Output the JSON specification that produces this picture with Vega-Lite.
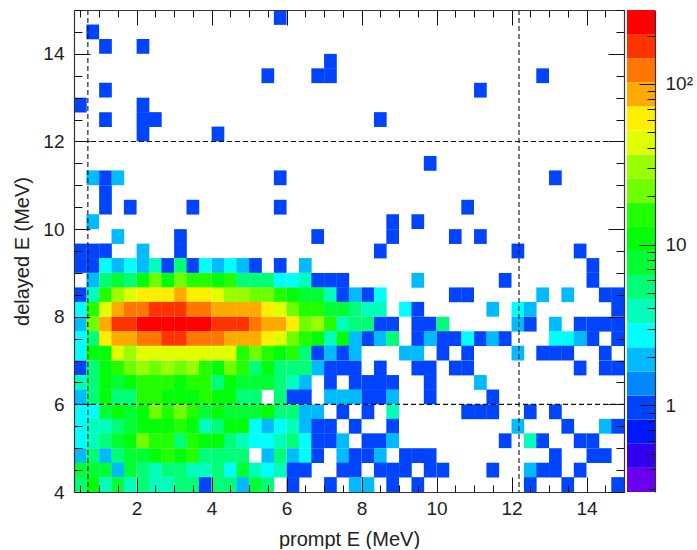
{"$schema":"https://vega.github.io/schema/vega-lite/v6.json","padding":{"left":12,"top":1,"right":0,"bottom":0},"autosize":{"type":"pad"},"background":"white","spacing":2,"config":{"font":"Liberation Sans","view":{"stroke":null},"axis":{"labelFont":"Liberation Sans","titleFont":"Liberation Sans","labelFontSize":19,"titleFontSize":20,"titleFontWeight":"normal","labelColor":"#222","titleColor":"#222","tickColor":"#111","domainColor":"#333","domainWidth":1.2,"grid":false,"labelOverlap":false,"labelFlush":false,"labelBound":false}},
"datasets":{"cells":[
{"x":5.83,"y":14.83,"n":1},{"x":0.83,"y":14.5,"n":1},{"x":1.17,"y":14.17,"n":1},{"x":2.17,"y":14.17,"n":1},{"x":7.17,"y":13.83,"n":1},{"x":5.5,"y":13.5,"n":1},{"x":6.83,"y":13.5,"n":1},{"x":7.17,"y":13.5,"n":1},{"x":12.83,"y":13.5,"n":1},{"x":1.17,"y":13.17,"n":1},{"x":11.17,"y":13.17,"n":1},{"x":0.5,"y":12.83,"n":1},{"x":2.17,"y":12.83,"n":1},{"x":1.17,"y":12.5,"n":1},{"x":2.17,"y":12.5,"n":1},{"x":2.5,"y":12.5,"n":1},{"x":8.5,"y":12.5,"n":1},{"x":2.17,"y":12.17,"n":1},{"x":4.17,"y":12.17,"n":1},{"x":9.83,"y":11.5,"n":1},
{"x":0.83,"y":11.17,"n":2},{"x":1.17,"y":11.17,"n":1},{"x":1.5,"y":11.17,"n":2},{"x":5.83,"y":11.17,"n":1},{"x":13.17,"y":11.17,"n":1},{"x":1.17,"y":10.83,"n":1},{"x":1.17,"y":10.5,"n":1},{"x":1.83,"y":10.5,"n":1},{"x":3.5,"y":10.5,"n":1},{"x":5.83,"y":10.5,"n":1},{"x":10.83,"y":10.5,"n":1},{"x":0.83,"y":10.17,"n":2},{"x":8.83,"y":10.17,"n":1},{"x":9.5,"y":10.17,"n":1},
{"x":1.5,"y":9.83,"n":2},{"x":3.17,"y":9.83,"n":1},{"x":6.83,"y":9.83,"n":1},{"x":8.83,"y":9.83,"n":1},{"x":10.5,"y":9.83,"n":1},{"x":11.17,"y":9.83,"n":1},
{"x":0.5,"y":9.5,"n":1},{"x":0.83,"y":9.5,"n":1},{"x":1.17,"y":9.5,"n":1},{"x":2.17,"y":9.5,"n":2},{"x":3.17,"y":9.5,"n":1},{"x":8.5,"y":9.5,"n":1},{"x":12.17,"y":9.5,"n":1},{"x":13.83,"y":9.5,"n":1},
{"x":0.5,"y":9.17,"n":1},{"x":0.83,"y":9.17,"n":1},{"x":1.17,"y":9.17,"n":3},{"x":1.5,"y":9.17,"n":2},{"x":1.83,"y":9.17,"n":3},{"x":2.17,"y":9.17,"n":2},{"x":2.5,"y":9.17,"n":4},{"x":2.83,"y":9.17,"n":1},{"x":3.17,"y":9.17,"n":6},{"x":3.5,"y":9.17,"n":1},{"x":3.83,"y":9.17,"n":3},{"x":4.17,"y":9.17,"n":2},{"x":4.5,"y":9.17,"n":3},{"x":4.83,"y":9.17,"n":2},{"x":5.17,"y":9.17,"n":1},{"x":5.83,"y":9.17,"n":1},{"x":6.5,"y":9.17,"n":2},{"x":14.17,"y":9.17,"n":1},
{"x":0.83,"y":8.83,"n":2},{"x":1.17,"y":8.83,"n":6},{"x":1.5,"y":8.83,"n":8},{"x":1.83,"y":8.83,"n":6},{"x":2.17,"y":8.83,"n":11},{"x":2.5,"y":8.83,"n":21},{"x":2.83,"y":8.83,"n":11},{"x":3.17,"y":8.83,"n":21},{"x":3.5,"y":8.83,"n":15},{"x":3.83,"y":8.83,"n":15},{"x":4.17,"y":8.83,"n":11},{"x":4.5,"y":8.83,"n":15},{"x":4.83,"y":8.83,"n":6},{"x":5.17,"y":8.83,"n":6},{"x":5.5,"y":8.83,"n":6},{"x":5.83,"y":8.83,"n":3},{"x":6.17,"y":8.83,"n":3},{"x":6.5,"y":8.83,"n":4},{"x":6.83,"y":8.83,"n":1},{"x":7.17,"y":8.83,"n":1},{"x":7.5,"y":8.83,"n":1},{"x":9.5,"y":8.83,"n":2},{"x":11.83,"y":8.83,"n":1},{"x":14.17,"y":8.83,"n":1},
{"x":0.5,"y":8.5,"n":1},{"x":0.83,"y":8.5,"n":4},{"x":1.17,"y":8.5,"n":15},{"x":1.5,"y":8.5,"n":30},{"x":1.83,"y":8.5,"n":43},{"x":2.17,"y":8.5,"n":60},{"x":2.5,"y":8.5,"n":60},{"x":2.83,"y":8.5,"n":60},{"x":3.17,"y":8.5,"n":85},{"x":3.5,"y":8.5,"n":60},{"x":3.83,"y":8.5,"n":60},{"x":4.17,"y":8.5,"n":43},{"x":4.5,"y":8.5,"n":30},{"x":4.83,"y":8.5,"n":30},{"x":5.17,"y":8.5,"n":21},{"x":5.5,"y":8.5,"n":21},{"x":5.83,"y":8.5,"n":15},{"x":6.17,"y":8.5,"n":11},{"x":6.5,"y":8.5,"n":8},{"x":6.83,"y":8.5,"n":8},{"x":7.17,"y":8.5,"n":4},{"x":7.5,"y":8.5,"n":1},{"x":7.83,"y":8.5,"n":2},{"x":8.17,"y":8.5,"n":1},{"x":8.5,"y":8.5,"n":3},{"x":10.5,"y":8.5,"n":1},{"x":10.83,"y":8.5,"n":1},{"x":12.83,"y":8.5,"n":2},{"x":13.5,"y":8.5,"n":2},{"x":14.5,"y":8.5,"n":1},{"x":14.83,"y":8.5,"n":1},
{"x":0.5,"y":8.17,"n":3},{"x":0.83,"y":8.17,"n":15},{"x":1.17,"y":8.17,"n":43},{"x":1.5,"y":8.17,"n":85},{"x":1.83,"y":8.17,"n":120},{"x":2.17,"y":8.17,"n":120},{"x":2.5,"y":8.17,"n":170},{"x":2.83,"y":8.17,"n":170},{"x":3.17,"y":8.17,"n":170},{"x":3.5,"y":8.17,"n":120},{"x":3.83,"y":8.17,"n":120},{"x":4.17,"y":8.17,"n":85},{"x":4.5,"y":8.17,"n":85},{"x":4.83,"y":8.17,"n":85},{"x":5.17,"y":8.17,"n":85},{"x":5.5,"y":8.17,"n":60},{"x":5.83,"y":8.17,"n":43},{"x":6.17,"y":8.17,"n":21},{"x":6.5,"y":8.17,"n":15},{"x":6.83,"y":8.17,"n":15},{"x":7.17,"y":8.17,"n":8},{"x":7.5,"y":8.17,"n":8},{"x":7.83,"y":8.17,"n":6},{"x":8.17,"y":8.17,"n":4},{"x":8.5,"y":8.17,"n":4},{"x":9.17,"y":8.17,"n":3},{"x":9.5,"y":8.17,"n":1},{"x":11.5,"y":8.17,"n":2},{"x":12.17,"y":8.17,"n":3},{"x":12.5,"y":8.17,"n":2},{"x":14.83,"y":8.17,"n":1},
{"x":0.5,"y":7.83,"n":2},{"x":0.83,"y":7.83,"n":21},{"x":1.17,"y":7.83,"n":85},{"x":1.5,"y":7.83,"n":170},{"x":1.83,"y":7.83,"n":170},{"x":2.17,"y":7.83,"n":240},{"x":2.5,"y":7.83,"n":240},{"x":2.83,"y":7.83,"n":240},{"x":3.17,"y":7.83,"n":240},{"x":3.5,"y":7.83,"n":240},{"x":3.83,"y":7.83,"n":240},{"x":4.17,"y":7.83,"n":170},{"x":4.5,"y":7.83,"n":170},{"x":4.83,"y":7.83,"n":170},{"x":5.17,"y":7.83,"n":120},{"x":5.5,"y":7.83,"n":85},{"x":5.83,"y":7.83,"n":85},{"x":6.17,"y":7.83,"n":60},{"x":6.5,"y":7.83,"n":21},{"x":6.83,"y":7.83,"n":30},{"x":7.17,"y":7.83,"n":15},{"x":7.5,"y":7.83,"n":4},{"x":7.83,"y":7.83,"n":6},{"x":8.17,"y":7.83,"n":6},{"x":8.5,"y":7.83,"n":1},{"x":8.83,"y":7.83,"n":1},{"x":9.5,"y":7.83,"n":1},{"x":9.83,"y":7.83,"n":1},{"x":10.17,"y":7.83,"n":6},{"x":12.17,"y":7.83,"n":2},{"x":12.5,"y":7.83,"n":1},{"x":13.17,"y":7.83,"n":2},{"x":13.83,"y":7.83,"n":1},{"x":14.17,"y":7.83,"n":1},{"x":14.5,"y":7.83,"n":1},{"x":14.83,"y":7.83,"n":1},
{"x":0.5,"y":7.5,"n":3},{"x":0.83,"y":7.5,"n":6},{"x":1.17,"y":7.5,"n":60},{"x":1.5,"y":7.5,"n":85},{"x":1.83,"y":7.5,"n":85},{"x":2.17,"y":7.5,"n":120},{"x":2.5,"y":7.5,"n":120},{"x":2.83,"y":7.5,"n":170},{"x":3.17,"y":7.5,"n":170},{"x":3.5,"y":7.5,"n":120},{"x":3.83,"y":7.5,"n":120},{"x":4.17,"y":7.5,"n":120},{"x":4.5,"y":7.5,"n":85},{"x":4.83,"y":7.5,"n":85},{"x":5.17,"y":7.5,"n":85},{"x":5.5,"y":7.5,"n":60},{"x":5.83,"y":7.5,"n":43},{"x":6.17,"y":7.5,"n":21},{"x":6.5,"y":7.5,"n":15},{"x":6.83,"y":7.5,"n":11},{"x":7.17,"y":7.5,"n":4},{"x":7.5,"y":7.5,"n":11},{"x":7.83,"y":7.5,"n":2},{"x":8.17,"y":7.5,"n":1},{"x":8.5,"y":7.5,"n":2},{"x":8.83,"y":7.5,"n":6},{"x":9.5,"y":7.5,"n":1},{"x":9.83,"y":7.5,"n":2},{"x":10.17,"y":7.5,"n":1},{"x":10.5,"y":7.5,"n":1},{"x":10.83,"y":7.5,"n":3},{"x":11.17,"y":7.5,"n":1},{"x":11.5,"y":7.5,"n":2},{"x":11.83,"y":7.5,"n":1},{"x":13.17,"y":7.5,"n":3},{"x":13.5,"y":7.5,"n":3},{"x":13.83,"y":7.5,"n":2},{"x":14.17,"y":7.5,"n":1},{"x":14.83,"y":7.5,"n":1},
{"x":0.5,"y":7.17,"n":3},{"x":0.83,"y":7.17,"n":11},{"x":1.17,"y":7.17,"n":11},{"x":1.5,"y":7.17,"n":43},{"x":1.83,"y":7.17,"n":30},{"x":2.17,"y":7.17,"n":43},{"x":2.5,"y":7.17,"n":43},{"x":2.83,"y":7.17,"n":43},{"x":3.17,"y":7.17,"n":43},{"x":3.5,"y":7.17,"n":43},{"x":3.83,"y":7.17,"n":43},{"x":4.17,"y":7.17,"n":43},{"x":4.5,"y":7.17,"n":43},{"x":4.83,"y":7.17,"n":15},{"x":5.17,"y":7.17,"n":21},{"x":5.5,"y":7.17,"n":15},{"x":5.83,"y":7.17,"n":11},{"x":6.17,"y":7.17,"n":15},{"x":6.5,"y":7.17,"n":6},{"x":6.83,"y":7.17,"n":1},{"x":7.17,"y":7.17,"n":2},{"x":7.5,"y":7.17,"n":1},{"x":7.83,"y":7.17,"n":2},{"x":9.17,"y":7.17,"n":2},{"x":9.5,"y":7.17,"n":2},{"x":10.17,"y":7.17,"n":1},{"x":10.83,"y":7.17,"n":1},{"x":12.17,"y":7.17,"n":2},{"x":12.83,"y":7.17,"n":1},{"x":13.17,"y":7.17,"n":1},{"x":13.5,"y":7.17,"n":1},{"x":14.5,"y":7.17,"n":1},
{"x":0.5,"y":6.83,"n":1},{"x":0.83,"y":6.83,"n":6},{"x":1.17,"y":6.83,"n":11},{"x":1.5,"y":6.83,"n":15},{"x":1.83,"y":6.83,"n":21},{"x":2.17,"y":6.83,"n":30},{"x":2.5,"y":6.83,"n":21},{"x":2.83,"y":6.83,"n":30},{"x":3.17,"y":6.83,"n":21},{"x":3.5,"y":6.83,"n":30},{"x":3.83,"y":6.83,"n":15},{"x":4.17,"y":6.83,"n":11},{"x":4.5,"y":6.83,"n":21},{"x":4.83,"y":6.83,"n":15},{"x":5.17,"y":6.83,"n":6},{"x":5.5,"y":6.83,"n":11},{"x":5.83,"y":6.83,"n":6},{"x":6.17,"y":6.83,"n":6},{"x":6.5,"y":6.83,"n":6},{"x":6.83,"y":6.83,"n":2},{"x":7.17,"y":6.83,"n":1},{"x":7.5,"y":6.83,"n":1},{"x":7.83,"y":6.83,"n":1},{"x":8.5,"y":6.83,"n":1},{"x":9.5,"y":6.83,"n":1},{"x":9.83,"y":6.83,"n":1},{"x":10.5,"y":6.83,"n":1},{"x":10.83,"y":6.83,"n":1},{"x":13.83,"y":6.83,"n":1},{"x":14.5,"y":6.83,"n":1},{"x":14.83,"y":6.83,"n":1},
{"x":0.5,"y":6.5,"n":4},{"x":0.83,"y":6.5,"n":6},{"x":1.17,"y":6.5,"n":11},{"x":1.5,"y":6.5,"n":8},{"x":1.83,"y":6.5,"n":11},{"x":2.17,"y":6.5,"n":15},{"x":2.5,"y":6.5,"n":15},{"x":2.83,"y":6.5,"n":15},{"x":3.17,"y":6.5,"n":11},{"x":3.5,"y":6.5,"n":15},{"x":3.83,"y":6.5,"n":15},{"x":4.17,"y":6.5,"n":6},{"x":4.5,"y":6.5,"n":11},{"x":4.83,"y":6.5,"n":8},{"x":5.17,"y":6.5,"n":8},{"x":5.5,"y":6.5,"n":8},{"x":5.83,"y":6.5,"n":6},{"x":6.17,"y":6.5,"n":4},{"x":6.5,"y":6.5,"n":2},{"x":7.17,"y":6.5,"n":1},{"x":7.83,"y":6.5,"n":1},{"x":8.17,"y":6.5,"n":1},{"x":8.5,"y":6.5,"n":1},{"x":8.83,"y":6.5,"n":1},{"x":9.83,"y":6.5,"n":1},{"x":11.17,"y":6.5,"n":2},
{"x":0.5,"y":6.17,"n":2},{"x":0.83,"y":6.17,"n":6},{"x":1.17,"y":6.17,"n":11},{"x":1.5,"y":6.17,"n":6},{"x":1.83,"y":6.17,"n":6},{"x":2.17,"y":6.17,"n":15},{"x":2.5,"y":6.17,"n":15},{"x":2.83,"y":6.17,"n":11},{"x":3.17,"y":6.17,"n":11},{"x":3.5,"y":6.17,"n":11},{"x":3.83,"y":6.17,"n":15},{"x":4.17,"y":6.17,"n":11},{"x":4.5,"y":6.17,"n":11},{"x":4.83,"y":6.17,"n":6},{"x":5.17,"y":6.17,"n":6},{"x":5.83,"y":6.17,"n":6},{"x":6.17,"y":6.17,"n":1},{"x":6.5,"y":6.17,"n":1},{"x":7.17,"y":6.17,"n":2},{"x":7.5,"y":6.17,"n":2},{"x":7.83,"y":6.17,"n":2},{"x":8.17,"y":6.17,"n":1},{"x":8.5,"y":6.17,"n":1},{"x":8.83,"y":6.17,"n":2},{"x":9.83,"y":6.17,"n":1},{"x":11.5,"y":6.17,"n":1},
{"x":0.5,"y":5.83,"n":3},{"x":0.83,"y":5.83,"n":3},{"x":1.17,"y":5.83,"n":8},{"x":1.5,"y":5.83,"n":11},{"x":1.83,"y":5.83,"n":8},{"x":2.17,"y":5.83,"n":11},{"x":2.5,"y":5.83,"n":21},{"x":2.83,"y":5.83,"n":15},{"x":3.17,"y":5.83,"n":21},{"x":3.5,"y":5.83,"n":15},{"x":3.83,"y":5.83,"n":8},{"x":4.17,"y":5.83,"n":11},{"x":4.5,"y":5.83,"n":8},{"x":4.83,"y":5.83,"n":8},{"x":5.17,"y":5.83,"n":8},{"x":5.5,"y":5.83,"n":11},{"x":5.83,"y":5.83,"n":6},{"x":6.17,"y":5.83,"n":6},{"x":6.5,"y":5.83,"n":2},{"x":6.83,"y":5.83,"n":2},{"x":7.5,"y":5.83,"n":1},{"x":8.17,"y":5.83,"n":1},{"x":8.83,"y":5.83,"n":4},{"x":10.83,"y":5.83,"n":1},{"x":11.17,"y":5.83,"n":1},{"x":11.5,"y":5.83,"n":1},{"x":12.5,"y":5.83,"n":1},{"x":13.17,"y":5.83,"n":1},
{"x":0.5,"y":5.5,"n":3},{"x":0.83,"y":5.5,"n":4},{"x":1.17,"y":5.5,"n":4},{"x":1.5,"y":5.5,"n":6},{"x":1.83,"y":5.5,"n":8},{"x":2.17,"y":5.5,"n":11},{"x":2.5,"y":5.5,"n":11},{"x":2.83,"y":5.5,"n":11},{"x":3.17,"y":5.5,"n":15},{"x":3.5,"y":5.5,"n":11},{"x":3.83,"y":5.5,"n":4},{"x":4.17,"y":5.5,"n":6},{"x":4.5,"y":5.5,"n":11},{"x":4.83,"y":5.5,"n":11},{"x":5.17,"y":5.5,"n":3},{"x":5.5,"y":5.5,"n":2},{"x":5.83,"y":5.5,"n":3},{"x":6.17,"y":5.5,"n":4},{"x":6.5,"y":5.5,"n":2},{"x":6.83,"y":5.5,"n":1},{"x":7.17,"y":5.5,"n":1},{"x":7.83,"y":5.5,"n":1},{"x":8.83,"y":5.5,"n":1},{"x":12.17,"y":5.5,"n":2},{"x":13.5,"y":5.5,"n":1},{"x":14.5,"y":5.5,"n":2},{"x":14.83,"y":5.5,"n":1},
{"x":0.5,"y":5.17,"n":3},{"x":0.83,"y":5.17,"n":4},{"x":1.17,"y":5.17,"n":6},{"x":1.5,"y":5.17,"n":8},{"x":1.83,"y":5.17,"n":11},{"x":2.17,"y":5.17,"n":21},{"x":2.5,"y":5.17,"n":15},{"x":2.83,"y":5.17,"n":15},{"x":3.17,"y":5.17,"n":6},{"x":3.5,"y":5.17,"n":15},{"x":3.83,"y":5.17,"n":11},{"x":4.17,"y":5.17,"n":11},{"x":4.5,"y":5.17,"n":6},{"x":4.83,"y":5.17,"n":4},{"x":5.17,"y":5.17,"n":3},{"x":5.5,"y":5.17,"n":3},{"x":5.83,"y":5.17,"n":4},{"x":6.17,"y":5.17,"n":6},{"x":6.5,"y":5.17,"n":3},{"x":6.83,"y":5.17,"n":1},{"x":7.17,"y":5.17,"n":1},{"x":7.5,"y":5.17,"n":2},{"x":8.17,"y":5.17,"n":1},{"x":8.5,"y":5.17,"n":1},{"x":8.83,"y":5.17,"n":2},{"x":11.83,"y":5.17,"n":1},{"x":12.5,"y":5.17,"n":4},{"x":12.83,"y":5.17,"n":1},{"x":13.83,"y":5.17,"n":1},{"x":14.17,"y":5.17,"n":1},
{"x":0.5,"y":4.83,"n":2},{"x":0.83,"y":4.83,"n":6},{"x":1.17,"y":4.83,"n":2},{"x":1.5,"y":4.83,"n":6},{"x":1.83,"y":4.83,"n":8},{"x":2.17,"y":4.83,"n":8},{"x":2.5,"y":4.83,"n":11},{"x":2.83,"y":4.83,"n":15},{"x":3.17,"y":4.83,"n":11},{"x":3.5,"y":4.83,"n":15},{"x":3.83,"y":4.83,"n":6},{"x":4.17,"y":4.83,"n":6},{"x":4.5,"y":4.83,"n":6},{"x":4.83,"y":4.83,"n":6},{"x":5.5,"y":4.83,"n":2},{"x":5.83,"y":4.83,"n":6},{"x":6.17,"y":4.83,"n":2},{"x":6.5,"y":4.83,"n":3},{"x":6.83,"y":4.83,"n":1},{"x":7.5,"y":4.83,"n":2},{"x":7.83,"y":4.83,"n":1},{"x":8.17,"y":4.83,"n":1},{"x":8.5,"y":4.83,"n":2},{"x":9.17,"y":4.83,"n":1},{"x":9.5,"y":4.83,"n":1},{"x":9.83,"y":4.83,"n":1},{"x":13.17,"y":4.83,"n":1},{"x":14.17,"y":4.83,"n":1},{"x":14.5,"y":4.83,"n":1},
{"x":0.5,"y":4.5,"n":8},{"x":0.83,"y":4.5,"n":8},{"x":1.17,"y":4.5,"n":8},{"x":1.5,"y":4.5,"n":2},{"x":1.83,"y":4.5,"n":8},{"x":2.17,"y":4.5,"n":6},{"x":2.5,"y":4.5,"n":4},{"x":2.83,"y":4.5,"n":6},{"x":3.17,"y":4.5,"n":6},{"x":3.5,"y":4.5,"n":4},{"x":3.83,"y":4.5,"n":4},{"x":4.17,"y":4.5,"n":6},{"x":4.5,"y":4.5,"n":3},{"x":4.83,"y":4.5,"n":8},{"x":5.17,"y":4.5,"n":4},{"x":5.5,"y":4.5,"n":3},{"x":5.83,"y":4.5,"n":4},{"x":6.17,"y":4.5,"n":1},{"x":6.5,"y":4.5,"n":1},{"x":7.5,"y":4.5,"n":1},{"x":7.83,"y":4.5,"n":1},{"x":8.5,"y":4.5,"n":1},{"x":8.83,"y":4.5,"n":1},{"x":9.17,"y":4.5,"n":1},{"x":9.83,"y":4.5,"n":1},{"x":10.17,"y":4.5,"n":1},{"x":11.5,"y":4.5,"n":1},{"x":12.5,"y":4.5,"n":2},{"x":12.83,"y":4.5,"n":1},{"x":13.17,"y":4.5,"n":1},{"x":13.83,"y":4.5,"n":1},
{"x":0.5,"y":4.17,"n":6},{"x":0.83,"y":4.17,"n":11},{"x":1.17,"y":4.17,"n":4},{"x":1.5,"y":4.17,"n":8},{"x":1.83,"y":4.17,"n":4},{"x":2.17,"y":4.17,"n":6},{"x":2.5,"y":4.17,"n":4},{"x":2.83,"y":4.17,"n":4},{"x":3.17,"y":4.17,"n":6},{"x":3.5,"y":4.17,"n":6},{"x":3.83,"y":4.17,"n":1},{"x":4.17,"y":4.17,"n":6},{"x":4.5,"y":4.17,"n":6},{"x":4.83,"y":4.17,"n":2},{"x":5.17,"y":4.17,"n":8},{"x":5.5,"y":4.17,"n":6},{"x":6.17,"y":4.17,"n":1},{"x":7.17,"y":4.17,"n":1},{"x":7.83,"y":4.17,"n":2},{"x":8.17,"y":4.17,"n":2},{"x":8.83,"y":4.17,"n":1},{"x":9.5,"y":4.17,"n":1},{"x":12.5,"y":4.17,"n":1},{"x":13.5,"y":4.17,"n":1},{"x":14.83,"y":4.17,"n":1}
],
"bands":[{"lo":0.288,"hi":0.407,"v":0.34},{"lo":0.407,"hi":0.575,"v":0.48},{"lo":0.575,"hi":0.813,"v":0.68},{"lo":0.813,"hi":1.148,"v":1},{"lo":1.148,"hi":1.622,"v":1.4},{"lo":1.622,"hi":2.291,"v":2},{"lo":2.291,"hi":3.236,"v":3},{"lo":3.236,"hi":4.571,"v":4},{"lo":4.571,"hi":6.457,"v":6},{"lo":6.457,"hi":9.12,"v":8},{"lo":9.12,"hi":12.88,"v":11},{"lo":12.88,"hi":18.2,"v":15},{"lo":18.2,"hi":25.7,"v":21},{"lo":25.7,"hi":36.3,"v":30},{"lo":36.3,"hi":51.3,"v":43},{"lo":51.3,"hi":72.4,"v":60},{"lo":72.4,"hi":102.3,"v":85},{"lo":102.3,"hi":144.5,"v":120},{"lo":144.5,"hi":204.2,"v":170},{"lo":204.2,"hi":288.4,"v":240}]},
"hconcat":[
{"width":550,"height":482,"resolve":{"axis":{"x":"independent","y":"independent"}},
"layer":[
{"data":{"name":"cells"},"mark":{"type":"rect","width":12.7,"height":14.8},
"encoding":{"x":{"field":"x","type":"quantitative","scale":{"domain":[0.33,15],"nice":false,"zero":false},"title":"prompt E (MeV)","axis":{"values":[0.5,1,1.5,2,2.5,3,3.5,4,4.5,5,5.5,6,6.5,7,7.5,8,8.5,9,9.5,10,10.5,11,11.5,12,12.5,13,13.5,14,14.5,15],"labelExpr":"datum.value%2==0?format(datum.value,'d'):''","tickSize":{"condition":{"test":"datum.value%2==0","value":-15},"value":-7},"labelPadding":22,"titlePadding":3,"zindex":1}},
"y":{"field":"y","type":"quantitative","scale":{"domain":[4,15],"nice":false,"zero":false},"title":"delayed E (MeV)","axis":{"values":[4,4.5,5,5.5,6,6.5,7,7.5,8,8.5,9,9.5,10,10.5,11,11.5,12,12.5,13,13.5,14,14.5,15],"labelExpr":"datum.value%2==0?format(datum.value,'d'):''","tickSize":{"condition":{"test":"datum.value%2==0","value":-16},"value":-8},"labelPadding":26,"titlePadding":10,"zindex":1}},
"color":{"field":"n","type":"quantitative","legend":null,"scale":{"type":"threshold","domain":[0.407,0.575,0.813,1.148,1.622,2.291,3.236,4.571,6.457,9.12,12.88,18.2,25.7,36.3,51.3,72.4,102.3,144.5,204.2],"range":["#6a00f0","#3300ee","#0018ff","#0044ff","#0088ff","#00bbff","#00ffff","#00ffbb","#00ff77","#00ff33","#00ff08","#22ff00","#70ff00","#99ff00","#e0ff00","#ffee00","#ffaa00","#ff7700","#ff3300","#ff0000"]}}}},
{"data":{"values":[{"e":0.7},{"e":12.2}]},"mark":{"type":"rule","color":"#111","strokeWidth":1.1,"strokeDash":[5,3]},
"encoding":{"x":{"field":"e","type":"quantitative","scale":{"domain":[0.33,15],"nice":false,"zero":false},"title":null,"axis":{"orient":"top","values":[0.5,1,1.5,2,2.5,3,3.5,4,4.5,5,5.5,6,6.5,7,7.5,8,8.5,9,9.5,10,10.5,11,11.5,12,12.5,13,13.5,14,14.5,15],"labels":false,"tickSize":{"condition":{"test":"datum.value%2==0","value":-15},"value":-7},"zindex":1}}}},
{"data":{"values":[{"d":6},{"d":12}]},"mark":{"type":"rule","color":"#111","strokeWidth":1.1,"strokeDash":[5,3]},
"encoding":{"y":{"field":"d","type":"quantitative","scale":{"domain":[4,15],"nice":false,"zero":false},"title":null,"axis":{"orient":"right","values":[4,4.5,5,5.5,6,6.5,7,7.5,8,8.5,9,9.5,10,10.5,11,11.5,12,12.5,13,13.5,14,14.5,15],"labels":false,"tickSize":{"condition":{"test":"datum.value%2==0","value":-16},"value":-8},"zindex":1}}}}
]},
{"width":28,"height":482,"data":{"name":"bands"},"mark":{"type":"rect"},
"encoding":{"y":{"field":"lo","type":"quantitative","scale":{"type":"log","domain":[0.288,288.4],"nice":false},"title":null,"axis":{"orient":"right","values":[0.3,0.4,0.5,0.6,0.7,0.8,0.9,1,2,3,4,5,6,7,8,9,10,20,30,40,50,60,70,80,90,100,200],"labelExpr":"datum.value==1?'1':datum.value==10?'10':datum.value==100?'10²':''","tickSize":{"condition":{"test":"datum.value==1||datum.value==10||datum.value==100","value":-16},"value":-8},"labelPadding":26,"zindex":1}},
"y2":{"field":"hi"},
"color":{"field":"v","type":"quantitative","legend":null,"scale":{"type":"threshold","domain":[0.407,0.575,0.813,1.148,1.622,2.291,3.236,4.571,6.457,9.12,12.88,18.2,25.7,36.3,51.3,72.4,102.3,144.5,204.2],"range":["#6a00f0","#3300ee","#0018ff","#0044ff","#0088ff","#00bbff","#00ffff","#00ffbb","#00ff77","#00ff33","#00ff08","#22ff00","#70ff00","#99ff00","#e0ff00","#ffee00","#ffaa00","#ff7700","#ff3300","#ff0000"]}}}}
]}
